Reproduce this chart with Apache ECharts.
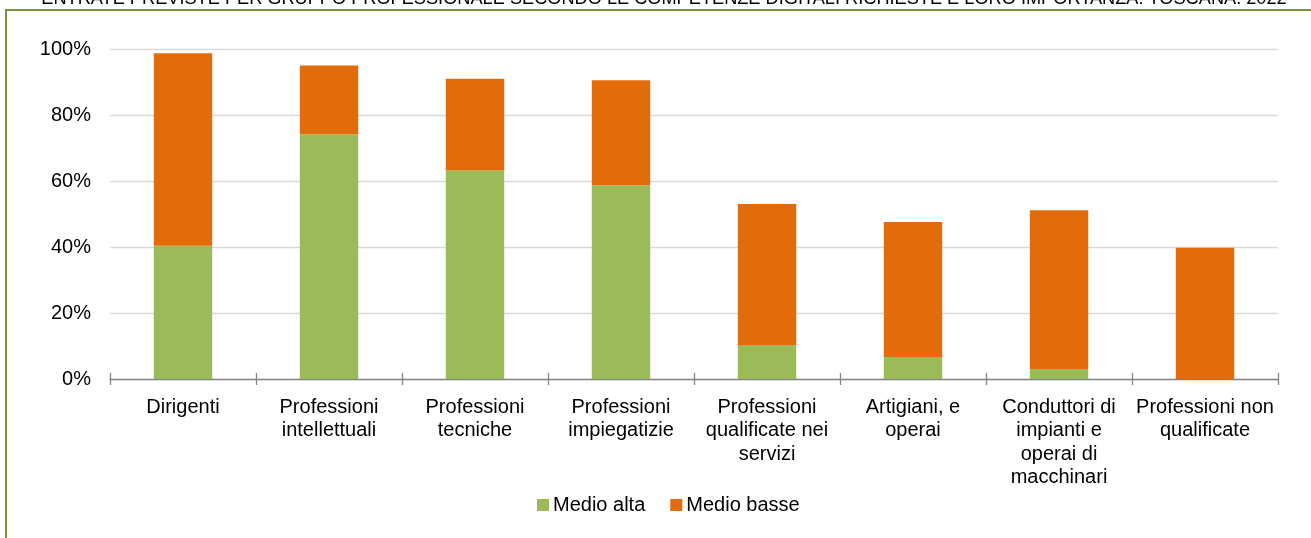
<!DOCTYPE html>
<html>
<head>
<meta charset="utf-8">
<script src="https://cdn.jsdelivr.net/npm/echarts@6/dist/echarts.min.js"></script>
<style>
html,body{margin:0;padding:0;background:#fff;}
#chart{width:1311px;height:538px;}
</style>
</head>
<body>
<div id="chart"></div>
<script>
const titleText = 'ENTRATE PREVISTE PER GRUPPO PROFESSIONALE SECONDO LE COMPETENZE DIGITALI RICHIESTE E LORO IMPORTANZA. TOSCANA. 2022';
const categories = [
  'Dirigenti',
  'Professioni\nintellettuali',
  'Professioni\ntecniche',
  'Professioni\nimpiegatizie',
  'Professioni\nqualificate nei\nservizi',
  'Artigiani, e\noperai',
  'Conduttori di\nimpianti e\noperai di\nmacchinari',
  'Professioni non\nqualificate'
];
const seriesNames = ['Medio alta', 'Medio basse'];
const medioAlta   = [40.4, 74.2, 63.2, 58.7, 10.3, 6.7, 3.0, 0.0];
const medioBasse  = [58.3, 20.8, 27.8, 31.8, 42.7, 40.9, 48.1, 39.8];
const yTicks = [0, 20, 40, 60, 80, 100];

const FONT = '"Liberation Sans", Arial, sans-serif';
const chart = echarts.init(document.getElementById('chart'), null, {renderer: 'canvas'});
chart.setOption({
  backgroundColor: '#ffffff',
  animation: false,
  textStyle: {fontFamily: FONT},
  graphic: [
    {
      type: 'rect', silent: true,
      shape: {x: 6, y: 10, width: 1340, height: 560},
      style: {fill: 'none', stroke: '#77933C', lineWidth: 2}
    },
    {
      type: 'text', silent: true,
      x: 664, y: -1.5,
      style: {
        text: titleText, font: '18.2px ' + FONT, fill: '#000',
        textAlign: 'center', textVerticalAlign: 'middle'
      }
    }
  ],
  legend: {
    data: seriesNames,
    left: 532, top: 490,
    itemWidth: 12, itemHeight: 12, itemGap: 25,
    icon: 'rect',
    textStyle: {fontFamily: FONT, fontSize: 20, color: '#000', padding: [0, 0, 0, -1]}
  },
  grid: {left: 110, right: 33, top: 49, bottom: 159, containLabel: false},
  xAxis: [
    {
      type: 'category', data: categories, position: 'bottom',
      axisLine: {show: true, lineStyle: {color: '#868686', width: 1.3}},
      axisTick: {show: true, length: 6, lineStyle: {color: '#868686', width: 1.3}},
      axisLabel: {
        fontFamily: FONT, fontSize: 20, color: '#000', lineHeight: 23.3,
        margin: 17, interval: 0
      }
    },
    {
      type: 'category', data: categories, position: 'bottom',
      axisLine: {show: false},
      axisTick: {show: true, inside: true, length: 6, lineStyle: {color: '#868686', width: 1.3}},
      axisLabel: {show: false}
    }
  ],
  yAxis: {
    type: 'value', min: yTicks[0], max: yTicks[yTicks.length - 1], interval: 20,
    axisLine: {show: false}, axisTick: {show: false},
    splitLine: {lineStyle: {color: '#D9D9D9', width: 1.3}},
    axisLabel: {fontFamily: FONT, fontSize: 20, color: '#000', margin: 19,
      formatter: v => v + '%'}
  },
  series: [
    {
      name: seriesNames[0], type: 'bar', stack: 'tot', data: medioAlta,
      barWidth: '40%', itemStyle: {color: '#9BBB59'}
    },
    {
      name: seriesNames[1], type: 'bar', stack: 'tot', data: medioBasse,
      barWidth: '40%', itemStyle: {color: '#E36C0A'}
    }
  ]
});
</script>
</body>
</html>
